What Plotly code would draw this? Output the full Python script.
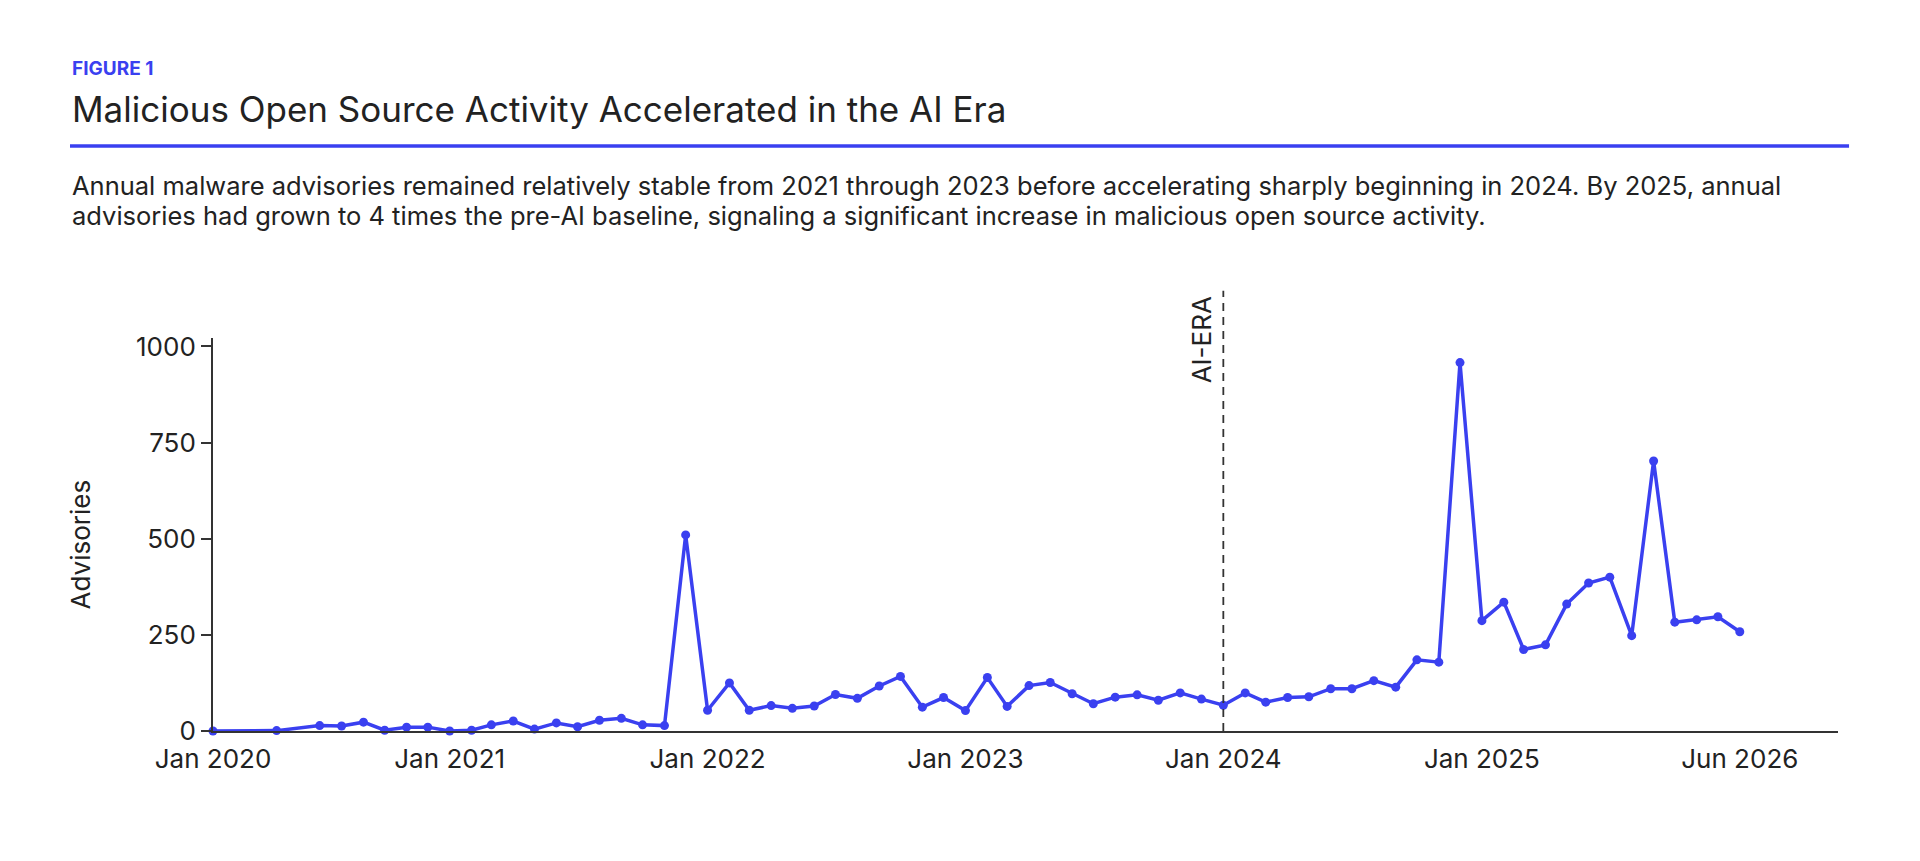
import plotly.graph_objects as go

# ---- data ----
dates = [
    "2020-02-01", "2020-05-01", "2020-07-01", "2020-08-01", "2020-09-01", "2020-10-01", "2020-11-01", "2020-12-01",
    "2021-01-01", "2021-02-01", "2021-03-01", "2021-04-01", "2021-05-01", "2021-06-01",
    "2021-07-01", "2021-08-01", "2021-09-01", "2021-10-01", "2021-11-01", "2021-12-01",
    "2022-01-01", "2022-02-01", "2022-03-01", "2022-04-01", "2022-05-01", "2022-06-01",
    "2022-07-01", "2022-08-01", "2022-09-01", "2022-10-01", "2022-11-01", "2022-12-01",
    "2023-01-01", "2023-02-01", "2023-03-01", "2023-04-01", "2023-05-01", "2023-06-01",
    "2023-07-01", "2023-08-01", "2023-09-01", "2023-10-01", "2023-11-01", "2023-12-01",
    "2024-01-01", "2024-02-01", "2024-03-01", "2024-04-01", "2024-05-01", "2024-06-01",
    "2024-07-01", "2024-08-01", "2024-09-01", "2024-10-01", "2024-11-01", "2024-12-01",
    "2025-01-01", "2025-02-01", "2025-03-01", "2025-04-01", "2025-05-01", "2025-06-01",
    "2025-07-01", "2025-08-01", "2025-09-01", "2025-10-01", "2025-11-01", "2025-12-01",
    "2026-01-01",
]
advisories = [
    0, 1, 14, 13, 23, 2, 10, 10,
    0, 2, 16, 26, 5, 21, 11, 28, 33, 16, 14, 510,
    54, 125, 54, 66, 59, 65, 95, 85, 117, 142, 62, 87,
    53, 139, 64, 118, 126, 97, 71, 88, 94, 80, 99, 83,
    67, 99, 75, 87, 89, 110, 110, 131, 114, 185, 179, 958,
    287, 335, 212, 224, 330, 385, 400, 248, 702, 283, 289, 297,
    258,
]
tick_dates = ["2020-02-01", "2021-01-01", "2022-01-01", "2023-01-01", "2024-01-01", "2025-01-01", "2026-01-01"]
tick_labels = ["Jan 2020", "Jan 2021", "Jan 2022", "Jan 2023", "Jan 2024", "Jan 2025", "Jun 2026"]
y_ticks = [0, 250, 500, 750, 1000]
ai_era_date = "2024-01-01"

figure_label = "FIGURE 1"
title_text = "Malicious Open Source Activity Accelerated in the AI Era"
subtitle_lines = [
    "Annual malware advisories remained relatively stable from 2021 through 2023 before accelerating sharply beginning in 2024. By 2025, annual",
    "advisories had grown to 4 times the pre-AI baseline, signaling a significant increase in malicious open source activity.",
]

BLUE = "#3A40F0"
INK = "#222222"
FONT = "Inter"

fig = go.Figure()
fig.add_trace(go.Scatter(
    x=dates, y=advisories, mode="lines+markers",
    line=dict(color=BLUE, width=3.5),
    marker=dict(color=BLUE, size=9),
    cliponaxis=False, showlegend=False,
))

# AI-era marker line
fig.add_shape(type="line", xref="x", yref="paper", x0=ai_era_date, x1=ai_era_date,
              y0=0, y1=1.12, line=dict(color="#333333", width=1.8, dash="8px,6px"))
fig.add_annotation(x=ai_era_date, xref="x", y=1.112, yref="paper", text="AI-ERA",
                   textangle=-90, showarrow=False, xanchor="right", yanchor="top", xshift=-4,
                   font=dict(family=FONT, size=26, color=INK))

# header
fig.add_annotation(x=-0.088, y=1.6855, xref="paper", yref="paper", text="<b>" + figure_label + "</b>",
                   showarrow=False, xanchor="left", yanchor="middle",
                   font=dict(family=FONT, size=19, color=BLUE))
fig.add_annotation(x=-0.088, y=1.5827, xref="paper", yref="paper", text=title_text,
                   showarrow=False, xanchor="left", yanchor="middle",
                   font=dict(family=FONT, size=35, color=INK))
fig.add_shape(type="line", xref="paper", yref="paper", x0=-0.088, x1=1.0068, y0=1.4885, y1=1.4885,
              line=dict(color=BLUE, width=3.5))
for line_text, ypos in zip(subtitle_lines, [1.3893, 1.3117]):
    fig.add_annotation(x=-0.088, y=ypos, xref="paper", yref="paper", text=line_text,
                       showarrow=False, xanchor="left", yanchor="middle", align="left",
                       font=dict(family=FONT, size=25.5, color=INK))
fig.add_annotation(x=-0.0818, y=0.475, xref="paper", yref="paper", text="Advisories",
                   textangle=-90, showarrow=False, xanchor="center", yanchor="middle",
                   font=dict(family=FONT, size=26, color=INK))

fig.update_layout(
    width=1920, height=861,
    margin=dict(l=213, r=82, t=338, b=130),
    paper_bgcolor="white", plot_bgcolor="white",
    font=dict(family=FONT, size=26, color=INK),
    xaxis=dict(type="date", range=["2020-02-01", "2026-05-20"],
               tickvals=tick_dates, ticktext=tick_labels, ticks="",
               ticklabelstandoff=4,
               showline=True, linecolor="#333333", linewidth=2, showgrid=False, zeroline=False,
               tickfont=dict(family=FONT, size=26, color=INK)),
    yaxis=dict(range=[0, 1022], tickvals=y_ticks, ticks="outside", ticklen=10, tickwidth=2,
               tickcolor="#333333", showline=True, linecolor="#333333", linewidth=2,
               showgrid=False, zeroline=False,
               tickfont=dict(family=FONT, size=26, color=INK)),
)

fig.write_html("out.html")
